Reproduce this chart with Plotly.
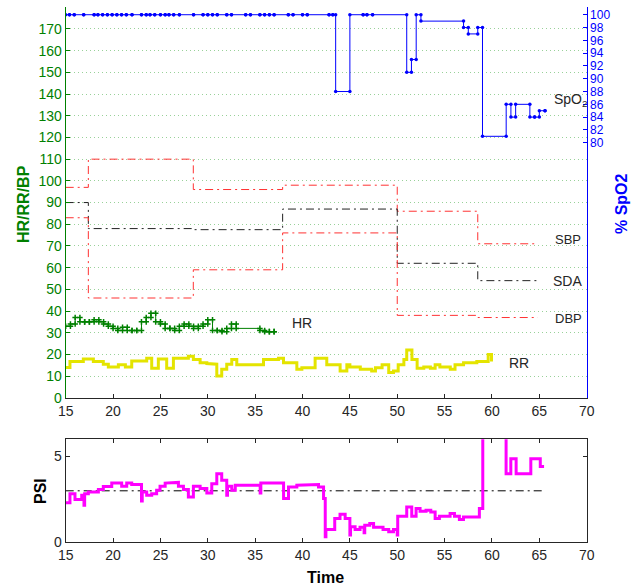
import plotly.graph_objects as go

# ---------------- data ----------------
spo2_t = [15.0, 15.4, 15.9, 16.9, 18.0, 18.4, 18.9, 19.4, 19.9, 20.4, 20.9, 21.4, 22.0, 23.0, 23.5,
          23.9, 24.4, 25.0, 25.5, 25.9, 26.4, 27.0, 28.5, 29.5, 30.0, 30.5, 31.0, 32.0, 32.5, 34.0,
          34.5, 35.5, 36.0, 36.5, 37.0, 38.5, 39.0, 40.0, 40.5, 42.8, 43.2,
          43.5, 45.0, 46.4, 46.8, 47.4, 51.0, 51.5, 52.0, 52.5, 57.0, 57.5, 58.5, 59.0,
          61.5, 62.0, 62.5, 64.0, 64.5, 65.0, 65.6]
spo2_v = [100] * 41 + [88, 100, 100, 100, 100, 91, 93, 100, 99, 98, 97, 98, 81,
                       86, 84, 86, 84, 84, 85, 85]

hr_t = [15.0, 15.5, 16.0, 16.5, 17.0, 17.5, 18.0, 18.5, 19.0, 19.5, 20.0, 20.5, 21.0, 21.5, 22.0,
        22.5, 23.0, 23.5, 24.0, 24.5, 25.0, 25.5, 26.0, 26.5, 27.0, 27.5, 28.0, 28.5, 29.0, 29.5,
        30.0, 30.5, 31.0, 31.5, 32.0, 32.5, 33.0, 35.5, 36.0, 36.5, 37.0]
hr_v = [33, 34, 37, 35, 35, 35, 36, 35, 34, 33, 32, 31, 32.5, 31, 31, 31, 35, 37, 39, 35,
        34, 32, 32, 31, 33, 34, 33, 32, 33, 34, 36, 31, 31, 30.5, 32, 34, 32, 31, 30.5, 30.5, 30.5]

rr_t = [15.0, 15.45, 16.86, 17.92, 18.97, 19.5, 20.56, 21.3, 21.97, 23.55, 24.08, 24.78, 25.66,
        26.37, 27.95, 28.48, 29.19, 29.9, 30.6, 30.95, 31.47, 32.0, 32.53, 33.06, 35.88, 37.46,
        37.99, 39.4, 39.93, 41.33, 42.56, 43.97, 44.68, 45.0, 46.1, 47.3, 47.7, 48.4, 49.1, 49.6,
        50.1, 50.7, 51.0, 51.55, 52.1, 52.8, 53.5, 54.0, 54.5, 55.6, 56.1, 57.0, 58.4, 59.6, 59.95]
rr_v = [14, 16.7, 17.9, 16.7, 15.5, 14.2, 15.2, 14.2, 17.0, 18.2, 13.6, 17.9, 13.6, 18.2, 19.2,
        17.7, 16.2, 15.8, 15.5, 10, 13.2, 15.5, 17.7, 15.2, 17.7, 18.2, 16.2, 13.2, 13.9, 18.2,
        15.2, 12.4, 15.2, 14.2, 13.2, 12.4, 13.9, 15.2, 11.7, 12.4, 15.2, 17.7, 22.0, 17.7, 13.6,
        14.2, 13.6, 15.2, 14.2, 13.2, 15.2, 16.2, 16.7, 20, 16.7]

bp_t = [15.0, 17.39, 28.47, 37.9, 50.0, 58.5, 64.84]
sbp_v = [97, 110, 96, 98, 86, 71, 71]
sda_v = [90, 78, 77.5, 87, 62, 54, 54]
dbp_v = [83, 46, 59, 76, 38, 37, 37]

psi_t = [15.0, 15.45, 15.98, 16.69, 16.93, 17.0, 17.39, 18.45, 18.97, 19.86, 20.91, 21.44, 21.97,
         23.0, 23.08, 23.55, 24.08, 24.6, 24.96, 25.5, 26.37, 26.9, 27.43, 27.95, 28.48, 29.19,
         29.9, 30.42, 30.95, 31.47, 32.0, 32.08, 32.53, 32.9, 35.53, 35.6, 38.0, 38.52, 39.4,
         40.28, 41.69, 42.22, 42.4, 42.47, 43.4, 43.96, 44.5, 45.0, 45.07, 45.55, 46.07, 46.5,
         46.57, 47.1, 47.5, 48.5, 49.1, 49.6, 50.0, 50.05, 51.0, 51.53, 51.99, 52.41, 53.04,
         53.54, 54.0, 54.45, 55.58, 56.04, 56.56, 56.99, 58.67, 59.03, 61.49, 61.99, 62.55,
         64.1, 65.1, 65.5]
psi_v = [2.3, 2.83, 2.5, 2.74, 2.16, 2.83, 2.93, 3.07, 3.25, 3.45, 3.26, 3.45, 3.37, 2.41, 2.93,
         2.74, 2.83, 3.03, 3.26, 3.45, 3.49, 3.26, 3.07, 2.64, 3.26, 3.13, 2.87, 3.41, 3.99, 3.61,
         2.74, 3.26, 3.03, 3.32, 2.87, 3.45, 2.55, 3.22, 3.32, 3.36, 3.22, 2.55, 0.33, 0.75, 1.39,
         1.64, 1.39, 0.42, 0.9, 0.75, 0.87, 0.55, 1.0, 1.09, 0.87, 0.75, 0.62, 0.75, 0.42, 1.52,
         2.06, 1.52, 1.97, 1.81, 1.87, 1.77, 1.39, 1.52, 1.68, 1.52, 1.33, 1.48, 1.97, 8.0, 4.0,
         4.86, 4.0, 4.86, 4.42, 4.42]

psi_ref_t = [15.0, 65.3]
psi_ref_v = [3, 3]

x_ticks = [15, 20, 25, 30, 35, 40, 45, 50, 55, 60, 65, 70]
left_ticks = list(range(0, 180, 10))
spo2_ticks = list(range(80, 101, 2))
psi_ticks = [0, 5]


def stairs(t, v):
    """Vertices of a staircase plot (like MATLAB stairs)."""
    xs, ys = [], []
    for i in range(len(t)):
        if i > 0:
            xs.append(t[i]); ys.append(v[i - 1])
        xs.append(t[i]); ys.append(v[i])
    return xs, ys


GREEN = "rgb(0,128,0)"
BLUE = "rgb(0,0,255)"
AX = "#262626"
FONT = "Liberation Sans, Arial, sans-serif"
DASHDOT = "8px,4px,2px,4px"

fig = go.Figure()

# top plot traces
for vals, col in [(sbp_v, "rgb(255,50,50)"), (sda_v, "#222222"), (dbp_v, "rgb(255,50,50)")]:
    xs, ys = stairs(bp_t, vals)
    fig.add_trace(go.Scatter(x=xs, y=ys, mode="lines", xaxis="x", yaxis="y",
                             line=dict(color=col, width=1, dash=DASHDOT), showlegend=False))

xs, ys = stairs(rr_t, rr_v)
fig.add_trace(go.Scatter(x=xs, y=ys, mode="lines", xaxis="x", yaxis="y",
                         line=dict(color="rgb(228,228,0)", width=3), showlegend=False))

xs, ys = stairs(hr_t, hr_v)
fig.add_trace(go.Scatter(x=xs, y=ys, mode="lines+markers", xaxis="x", yaxis="y",
                         line=dict(color=GREEN, width=1),
                         marker=dict(symbol="cross-thin", size=4, color=GREEN,
                                     line=dict(color=GREEN, width=1.5)),
                         showlegend=False))

xs, ys = stairs(spo2_t, spo2_v)
fig.add_trace(go.Scatter(x=xs, y=ys, mode="lines+markers", xaxis="x", yaxis="y2",
                         line=dict(color=BLUE, width=1),
                         marker=dict(symbol="circle", size=3.5, color=BLUE), showlegend=False))

# bottom plot traces
fig.add_trace(go.Scatter(x=psi_ref_t, y=psi_ref_v, mode="lines", xaxis="x3", yaxis="y3",
                         line=dict(color="black", width=1, dash=DASHDOT), showlegend=False))
xs, ys = stairs(psi_t, psi_v)
fig.add_trace(go.Scatter(x=xs, y=ys, mode="lines", xaxis="x3", yaxis="y3",
                         line=dict(color="rgb(255,0,255)", width=3), showlegend=False))

W, H = 642, 585
xdom = [65.7 / W, 586.7 / W]
top_dom = [1 - 397.8 / H, 1 - 7.3 / H]
bot_dom = [1 - 542.3 / H, 1 - 439.3 / H]

tickfont = dict(family=FONT, size=14, color=AX)

fig.update_layout(
    width=W, height=H, margin=dict(l=0, r=0, t=0, b=0),
    paper_bgcolor="white", plot_bgcolor="white",
    xaxis=dict(domain=xdom, anchor="y", range=[15, 70], tickvals=x_ticks,
               ticks="inside", ticklen=4, tickcolor=AX, showline=True, linecolor=AX,
               linewidth=1, showgrid=False, zeroline=False, tickfont=tickfont, automargin=False),
    yaxis=dict(domain=top_dom, anchor="x", range=[0, 180], tickvals=left_ticks,
               ticks="inside", ticklen=4, tickcolor=GREEN, showline=True, linecolor=GREEN,
               linewidth=1, showgrid=True, gridcolor="rgba(0,140,0,0.4)", griddash="1px,3px",
               gridwidth=1, zeroline=False,
               tickfont=dict(family=FONT, size=14, color=GREEN), automargin=False),
    yaxis2=dict(overlaying="y", side="right", anchor="x", range=[40.14, 101.16],
                tickvals=spo2_ticks, ticks="inside", ticklen=4, tickcolor=BLUE, showline=True,
                linecolor=BLUE, linewidth=1, showgrid=False, zeroline=False,
                tickfont=dict(family=FONT, size=12, color=BLUE), automargin=False),
    xaxis3=dict(domain=xdom, anchor="y3", range=[15, 70], tickvals=x_ticks,
                ticks="inside", ticklen=4, tickcolor=AX, showline=True, linecolor=AX,
                linewidth=1, mirror="ticks", showgrid=False, zeroline=False,
                tickfont=tickfont, automargin=False),
    yaxis3=dict(domain=bot_dom, anchor="x3", range=[0, 6], tickvals=psi_ticks,
                ticks="inside", ticklen=4, tickcolor=AX, showline=True, linecolor=AX,
                linewidth=1, mirror="ticks", showgrid=False, zeroline=False,
                tickfont=tickfont, automargin=False),
)

ann = []
lab = dict(family=FONT, size=16)
common = dict(xref="paper", yref="paper", showarrow=False, xanchor="center", yanchor="middle")
ann.append(dict(common, text="<b>HR/RR/BP</b>", x=23 / W, y=1 - 204 / H, textangle=-90,
                font=dict(lab, color=GREEN)))
ann.append(dict(common, text="<b>% SpO2</b>", x=621 / W, y=1 - 204 / H, textangle=-90,
                font=dict(lab, color=BLUE)))
ann.append(dict(common, text="<b>PSI</b>", x=40 / W, y=1 - 491 / H, textangle=-90,
                font=dict(lab, color="black")))
ann.append(dict(common, text="<b>Time</b>", x=325 / W, y=1 - 577 / H,
                font=dict(lab, color="black")))

txt = dict(family=FONT, color=AX)
ann.append(dict(text="SpO<sub>2</sub>", x=66.35, y=86.6, xref="x", yref="y2", xanchor="left",
                yanchor="middle", showarrow=False, font=dict(txt, size=14)))
ann.append(dict(text="SBP", x=66.4, y=73.0, xref="x", yref="y", xanchor="left",
                yanchor="middle", showarrow=False, font=dict(txt, size=13)))
ann.append(dict(text="SDA", x=66.2, y=53.8, xref="x", yref="y", xanchor="left",
                yanchor="middle", showarrow=False, font=dict(txt, size=14)))
ann.append(dict(text="DBP", x=66.4, y=36.6, xref="x", yref="y", xanchor="left",
                yanchor="middle", showarrow=False, font=dict(txt, size=13)))
ann.append(dict(text="HR", x=38.7, y=34.6, xref="x", yref="y", xanchor="left",
                yanchor="middle", showarrow=False, font=dict(txt, size=14)))
ann.append(dict(text="RR", x=61.6, y=15.9, xref="x", yref="y", xanchor="left",
                yanchor="middle", showarrow=False, font=dict(txt, size=14)))
fig.update_layout(annotations=ann)

fig.write_html("out.html")
